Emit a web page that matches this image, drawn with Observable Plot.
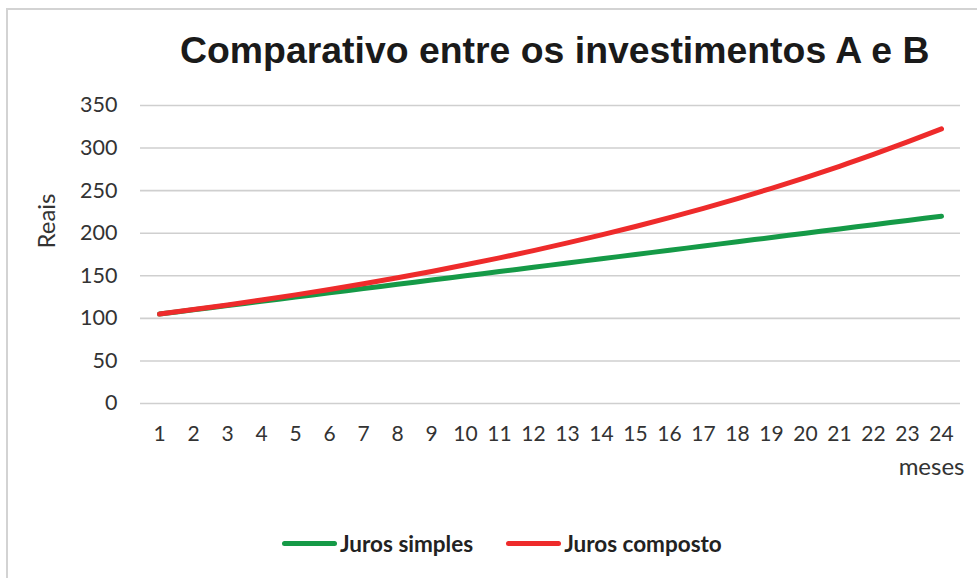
<!DOCTYPE html>
<html>
<head>
<meta charset="utf-8">
<script src="https://cdn.jsdelivr.net/npm/d3@7"></script>
<script src="https://cdn.jsdelivr.net/npm/@observablehq/plot@0.6"></script>
<style>
  html, body { margin: 0; padding: 0; background: #fff; }
  body { width: 977px; height: 578px; position: relative; overflow: hidden; font-family: Lato, "Open Sans", sans-serif; }
  #frame { position: absolute; left: 6px; top: 8px; width: 1200px; height: 800px; border-left: 2px solid #d3d3d3; border-top: 2px solid #d3d3d3; }
  #title { position: absolute; left: 0; top: 0; width: 977px; height: 90px; }
  #title div { position: absolute; left: 180px; top: 29px; font-family: "Liberation Sans", Arial, sans-serif; font-weight: bold; font-size: 37.4px; color: #1a1a1a; white-space: nowrap; }
  #chart { position: absolute; left: 0; top: 90px; }
  #legend { position: absolute; left: 282px; top: 530px; display: flex; align-items: center; font-family: Lato, sans-serif; font-weight: bold; font-size: 22.5px; color: #222; }
  .sw { width: 55px; height: 5px; border-radius: 3px; margin-right: 3px; }
  .item { display: flex; align-items: center; }
</style>
</head>
<body>
<div id="frame"></div>
<div id="title"><div>Comparativo entre os investimentos A e B</div></div>
<div id="chart"></div>
<div id="legend"></div>
<script>
const months = [1,2,3,4,5,6,7,8,9,10,11,12,13,14,15,16,17,18,19,20,21,22,23,24];
const jurosSimples = [105,110,115,120,125,130,135,140,145,150,155,160,165,170,175,180,185,190,195,200,205,210,215,220];
const jurosComposto = [105.0,110.3,115.8,121.6,127.6,134.0,140.7,147.7,155.1,162.9,171.0,179.6,188.6,198.0,207.9,218.3,229.2,240.7,252.7,265.3,278.6,292.5,307.2,322.5];
const seriesNames = ["Juros simples", "Juros composto"];
const seriesColors = ["#159a47", "#ee2b2b"];
const yTicks = [0,50,100,150,200,250,300,350];

const data = [];
months.forEach((m, i) => {
  data.push({mes: m, valor: jurosSimples[i], serie: seriesNames[0]});
  data.push({mes: m, valor: jurosComposto[i], serie: seriesNames[1]});
});

const plot = Plot.plot({
  width: 977,
  height: 400,
  marginLeft: 140,
  marginRight: 17,
  marginTop: 15,
  marginBottom: 87,
  style: {fontFamily: "Lato, 'Open Sans', sans-serif", fontSize: "21.5px", color: "#333", background: "transparent", overflow: "visible"},
  x: {type: "point", domain: months, padding: 0.5, label: null},
  y: {domain: [0, 350], label: null},
  color: {domain: seriesNames, range: seriesColors},
  marks: [
    Plot.gridY(yTicks, {stroke: "#cfcfcf", strokeOpacity: 1, strokeWidth: 1.6}),
    Plot.axisY(yTicks, {tickSize: 0, tickPadding: 23, label: null, fontSize: 21.5}),
    Plot.axisX(months, {tickSize: 0, tickPadding: 23, label: null, fontSize: 21}),
    Plot.line(data, {x: "mes", y: "valor", stroke: "serie", z: "serie", strokeWidth: 5, strokeLinecap: "round", strokeLinejoin: "round", curve: "monotone-x"}),
    Plot.text(["Reais"], {frameAnchor: "left", rotate: -90, dx: -93, dy: -6, fontSize: 24, fill: "#333"}),
    Plot.text(["meses"], {frameAnchor: "bottom-right", textAnchor: "end", dx: 4, dy: 71, fontSize: 24, fill: "#333"})
  ]
});
document.getElementById("chart").appendChild(plot);

const legend = document.getElementById("legend");
seriesNames.forEach((name, i) => {
  const item = document.createElement("div");
  item.className = "item";
  item.style.marginRight = i === 0 ? "33px" : "0";
  const sw = document.createElement("div");
  sw.className = "sw";
  sw.style.background = seriesColors[i];
  const t = document.createElement("span");
  t.textContent = name;
  item.appendChild(sw);
  item.appendChild(t);
  legend.appendChild(item);
});
</script>
</body>
</html>
